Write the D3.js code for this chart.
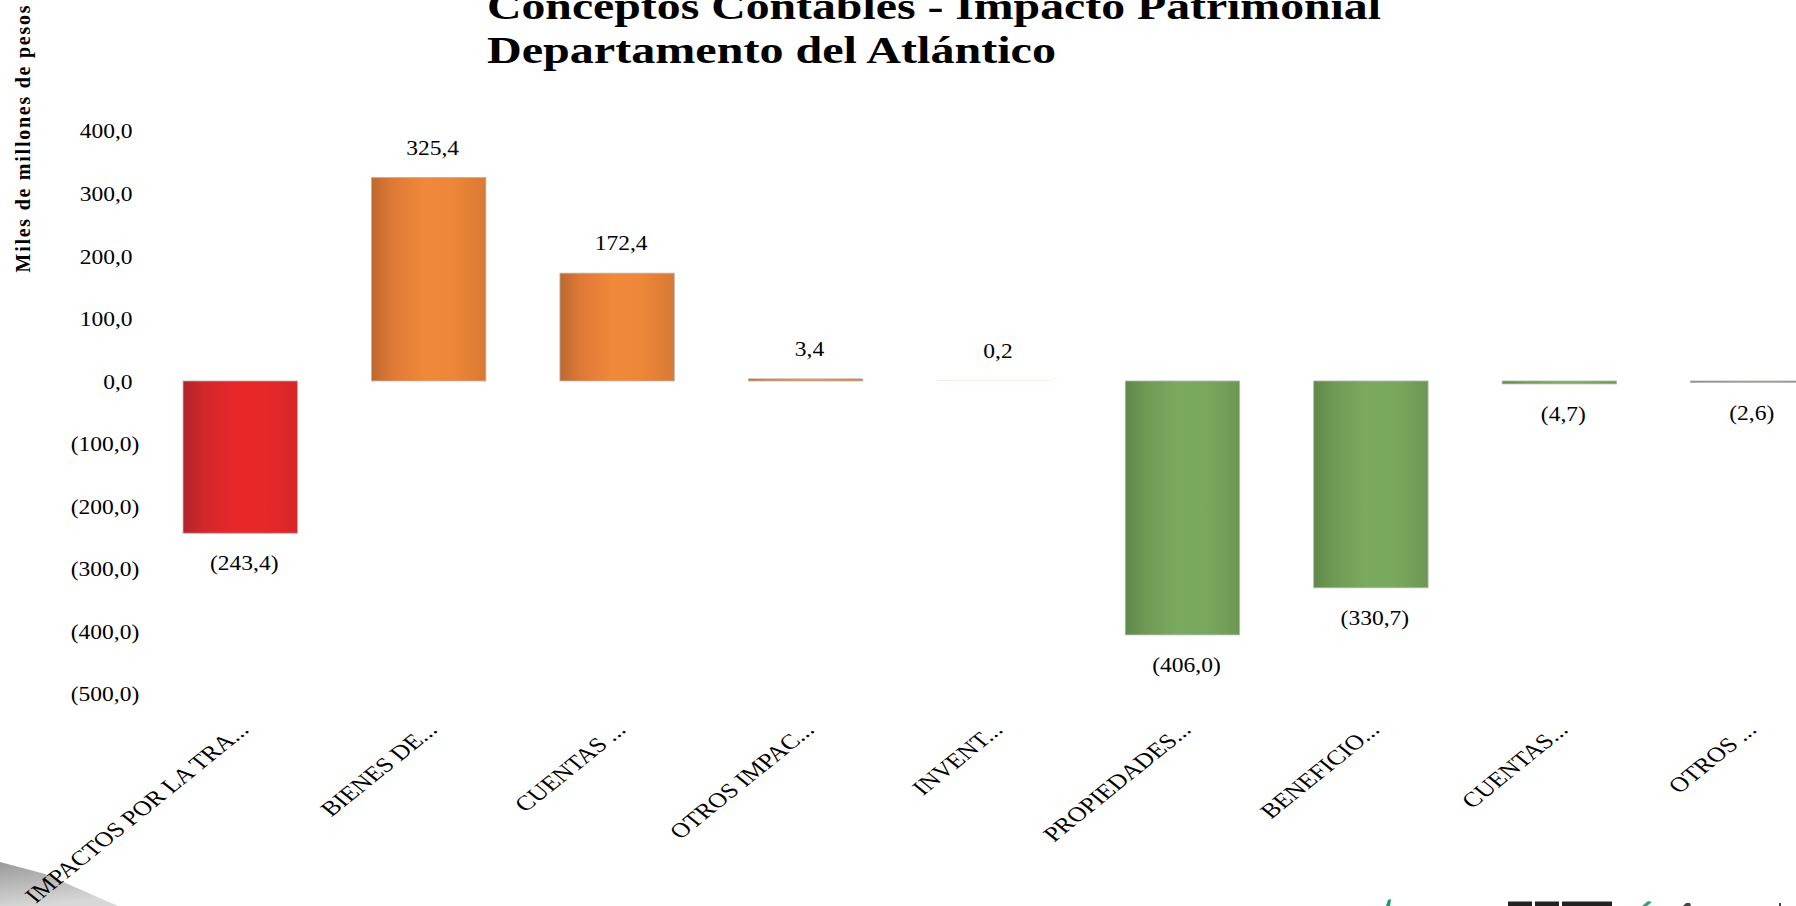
<!DOCTYPE html>
<html>
<head>
<meta charset="utf-8">
<script src="https://cdn.jsdelivr.net/npm/d3@7"></script>
<style>
  html, body { margin: 0; padding: 0; background: #ffffff; }
  svg { display: block; }
  text { font-family: "Liberation Serif", "Times New Roman", serif; fill: #000; }
</style>
</head>
<body>
<svg id="chart" width="1796" height="906"></svg>
<script>
// ---------------- data ----------------
const categories = ["IMPACTOS POR LA TRA...", "BIENES DE...", "CUENTAS ...", "OTROS IMPAC...", "INVENT...", "PROPIEDADES...", "BENEFICIO...", "CUENTAS...", "OTROS ..."];
const values = [-243.4, 325.4, 172.4, 3.4, 0.2, -406.0, -330.7, -4.7, -2.6];
const colorGroups = ["red", "orange", "orange", "orange", "orange", "green", "green", "green", "green"];
const yTickValues = [400, 300, 200, 100, 0, -100, -200, -300, -400, -500];
const titleLines = ["Conceptos Contables - Impacto Patrimonial", "Departamento del Atlántico"];
const yAxisTitle = "Miles de millones de pesos";

// ---------------- setup ----------------
const svg = d3.select("#chart");

const palettes = {
  red:    ["#b0252a", "#d2272b", "#e8272a", "#e82729", "#d72629"],
  orange: ["#bd6830", "#de7936", "#f0883a", "#ee8739", "#d87934"],
  green:  ["#5e8848", "#6f9a55", "#7aaa5e", "#79a95d", "#6c9853"]
};

const defs = svg.append("defs");
Object.entries(palettes).forEach(([k, c]) => {
  const g = defs.append("linearGradient").attr("id", "grad-" + k)
    .attr("x1", "0%").attr("x2", "100%").attr("y1", "0%").attr("y2", "0%");
  [0, 0.18, 0.45, 0.7, 1].forEach((o, i) => g.append("stop").attr("offset", o).attr("stop-color", c[i]));
});
const sw = defs.append("linearGradient").attr("id", "swoosh")
  .attr("x1", "0%").attr("x2", "30%").attr("y1", "0%").attr("y2", "100%");
sw.append("stop").attr("offset", 0).attr("stop-color", "#9a9a9a");
sw.append("stop").attr("offset", 1).attr("stop-color", "#d8d8d8");

const x = d3.scaleBand()
  .domain(d3.range(categories.length))
  .range([146, 1842])
  .paddingInner(0.393)
  .paddingOuter(0.1965);

const y = d3.scaleLinear().domain([-500, 400]).range([693.7, 130.8]);

const fmt = v => {
  const s = Math.abs(v).toFixed(1).replace(".", ",");
  return v < 0 ? "(" + s + ")" : s;
};

// ---------------- decorative swoosh ----------------
svg.append("path")
  .attr("d", "M0,862 L45,874 L118,906 L0,906 Z")
  .attr("fill", "url(#swoosh)");

// ---------------- title ----------------
const title = svg.append("g");
title.append("text")
  .attr("x", 487).attr("y", 19)
  .attr("font-size", 38).attr("font-weight", "bold")
  .attr("textLength", 894).attr("lengthAdjust", "spacingAndGlyphs")
  .text(titleLines[0]);
title.append("text")
  .attr("x", 487).attr("y", 63)
  .attr("font-size", 38).attr("font-weight", "bold")
  .attr("textLength", 569).attr("lengthAdjust", "spacingAndGlyphs")
  .text(titleLines[1]);

// ---------------- y axis title ----------------
svg.append("text")
  .attr("transform", "translate(30,139) rotate(-90)")
  .attr("text-anchor", "middle")
  .attr("font-size", 20).attr("font-weight", "bold")
  .attr("textLength", 267).attr("lengthAdjust", "spacing")
  .text(yAxisTitle);

// ---------------- y axis ----------------
const yAxis = d3.axisLeft(y)
  .tickValues(yTickValues)
  .tickFormat(fmt)
  .tickSize(0)
  .tickPadding(0);

const yg = svg.append("g").attr("transform", "translate(139.3,0)").call(yAxis);
yg.select(".domain").remove();
yg.selectAll(".tick text")
  .attr("font-family", "Liberation Serif, Times New Roman, serif")
  .attr("font-size", 21)
  .attr("fill", "#000")
  .attr("x", 0)
  .attr("dx", d => d >= 0 ? -6 : 0)
  .attr("dy", "0.34em")
  .attr("transform", "scale(1.12,1)");

// ---------------- bars ----------------
const bars = svg.append("g");
bars.selectAll("rect")
  .data(values)
  .join("rect")
  .attr("x", (d, i) => x(i))
  .attr("width", x.bandwidth())
  .attr("y", d => y(Math.max(0, d)))
  .attr("height", d => Math.abs(y(d) - y(0)))
  .attr("fill", (d, i) => "url(#grad-" + colorGroups[i] + ")")
  .attr("stroke", d => Math.abs(y(d) - y(0)) < 0.5 ? "none" : "#b4b4b4")
  .attr("stroke-width", 0.8);

// ---------------- data labels ----------------
const labels = svg.append("g");
labels.selectAll("g")
  .data(values)
  .join("g")
  .attr("transform", (d, i) => {
    const cx = x(i) + x.bandwidth() / 2 + 4;
    const cy = d >= 0 ? y(d) - 30 : y(d) + 30;
    return "translate(" + cx + "," + cy + ") scale(1.12,1)";
  })
  .append("text")
  .attr("text-anchor", "middle")
  .attr("dy", "0.34em")
  .attr("font-size", 21)
  .text(d => fmt(d));

// ---------------- category labels ----------------
const cats = svg.append("g");
cats.selectAll("g")
  .data(categories)
  .join("g")
  .attr("transform", (d, i) => {
    const ax = x(i) + x.bandwidth() / 2 + 10;
    return "translate(" + ax + ",731) scale(1.24,1) rotate(-45)";
  })
  .append("text")
  .attr("text-anchor", "end")
  .attr("font-size", 21)
  .text(d => d);

// ---------------- partial logo at bottom right ----------------
const logo = svg.append("g");
logo.append("path").attr("d", "M1386,906 L1388,900 L1391,899 L1390,906 Z").attr("fill", "#1a9a6a");
logo.append("rect").attr("x", 1508).attr("y", 901.5).attr("width", 24).attr("height", 5).attr("fill", "#222");
logo.append("rect").attr("x", 1535).attr("y", 901.5).attr("width", 24).attr("height", 5).attr("fill", "#222");
logo.append("rect").attr("x", 1562).attr("y", 901.5).attr("width", 50).attr("height", 5).attr("fill", "#222");
logo.append("path").attr("d", "M1642,906 L1648,901 L1652,902 L1647,906 Z").attr("fill", "#3aa070");
logo.append("path").attr("d", "M1683,906 L1686,903 L1690,903 L1691,906 Z").attr("fill", "#444");
logo.append("rect").attr("x", 1779).attr("y", 903).attr("width", 2).attr("height", 3).attr("fill", "#444");
</script>
</body>
</html>
